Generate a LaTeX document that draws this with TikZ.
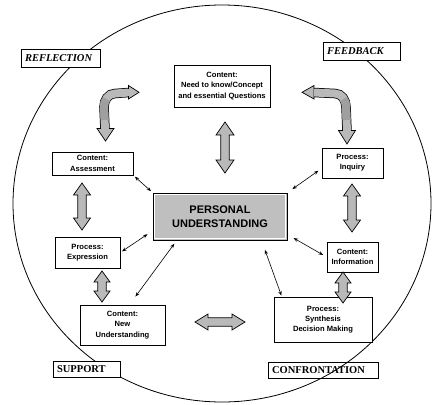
\documentclass[tikz,border=0pt]{standalone}
\usepackage{fontspec}
\setmainfont{Liberation Serif}
\setsansfont{Liberation Sans}
\usetikzlibrary{arrows.meta}

% vertical block double arrow: x, y-top, y-bottom, head half-width, head length
\newcommand{\VertArrow}[5]{%
  \draw[blk] (#1,#2) -- ({#1+#4},{#2+#5}) -- ({#1+4.2},{#2+#5}) -- ({#1+4.2},{#3-#5})
    -- ({#1+#4},{#3-#5}) -- (#1,#3) -- ({#1-#4},{#3-#5}) -- ({#1-4.2},{#3-#5})
    -- ({#1-4.2},{#2+#5}) -- ({#1-#4},{#2+#5}) -- cycle;}
% horizontal block double arrow: y, x-left, x-right, head half-width, head length
\newcommand{\HorzArrow}[5]{%
  \draw[blk] (#2,#1) -- ({#2+#5},{#1-#4}) -- ({#2+#5},{#1-4.2}) -- ({#3-#5},{#1-4.2})
    -- ({#3-#5},{#1-#4}) -- (#3,#1) -- ({#3-#5},{#1+#4}) -- ({#3-#5},{#1+4.2})
    -- ({#2+#5},{#1+4.2}) -- ({#2+#5},{#1+#4}) -- cycle;}

\begin{document}
\begin{tikzpicture}[x=1pt,y=-1pt,
  box/.style={draw=black, line width=0.7pt, fill=white, align=center, inner sep=1pt,
    font=\sffamily\bfseries\fontsize{7.6}{10.3}\selectfont},
  tag/.style={draw=black, line width=0.7pt, fill=white, inner sep=0pt, align=left,
    font=\rmfamily\bfseries\fontsize{10.5}{12}\selectfont},
  core/.style={draw=black, line width=1pt, fill=gray!50, align=center, inner sep=1pt,
    font=\sffamily\bfseries\fontsize{11}{14}\selectfont},
  conn/.style={line width=0.6pt, {Stealth[length=4.5pt,width=3.4pt]}-{Stealth[length=4.5pt,width=3.4pt]}},
  blk/.style={draw=black, line width=0.7pt, fill=gray!55, line join=miter},
  bendout/.style={line width=9.5pt, black},
  bendin/.style={line width=8pt, gray!55},
  bendshade/.style={line width=8pt, gray!75},
]
\useasboundingbox (0,0) rectangle (436,404);

% outer circle
\draw[line width=0.8pt] (222,203.5) ellipse [x radius=209pt, y radius=198.5pt];

% corner labels
\node[tag, minimum width=79pt, minimum height=18pt, text width=71pt] (refl) at (60.5,58) {\itshape REFLECTION};
\node[tag, minimum width=77pt, minimum height=18pt, text width=69pt] (feed) at (361.5,51) {\itshape FEEDBACK};
\node[tag, minimum width=67pt, minimum height=16pt, text width=59pt] (supp) at (86.5,369) {SUPPORT};
\node[tag, fill=none, minimum width=110pt, minimum height=16pt, text width=102pt] (conf) at (323,370) {CONFRONTATION};

% content and process boxes
\node[box, minimum width=96pt, minimum height=42pt] (need) at (222,86) {Content:\\Need to know/Concept\\and essential Questions};
\node[box, minimum width=81pt, minimum height=23pt] (assess) at (92.5,163.5) {Content:\\Assessment};
\node[box, minimum width=61pt, minimum height=30pt] (inquiry) at (352.5,163) {Process:\\Inquiry};
\node[core, minimum width=134pt, minimum height=47pt] (personal) at (220,216.5) {PERSONAL\\UNDERSTANDING};
\draw[white, line width=0.8pt] ([shift={(2.2pt,-2.2pt)}]personal.north west) rectangle ([shift={(-2.2pt,2.2pt)}]personal.south east);
\node[box, minimum width=65pt, minimum height=31pt] (expr) at (87.5,252.5) {Process:\\Expression};
\node[box, minimum width=51pt, minimum height=30pt] (info) at (352.5,257) {Content:\\Information};
\node[box, minimum width=85pt, minimum height=40pt] (newu) at (122.5,325) {Content:\\New\\Understanding};
\node[box, minimum width=98pt, minimum height=45pt] (synth) at (323,319.5) {Process:\\Synthesis\\Decision Making};

% block double arrows
\VertArrow{225}{122}{173}{9}{13}
\VertArrow{82}{183}{230}{8.5}{12}
\VertArrow{352}{184}{232}{8.5}{12}
\VertArrow{102}{271}{302}{8}{11}
\VertArrow{343}{272}{303}{8}{11}
\HorzArrow{322}{195}{245}{8}{13}

% bent arrow, upper left
\draw[bendout] (105,129) -- (104,107) to[out=90,in=180] (115,93.5) -- (129,92.5);
\draw[bendin]  (105,129) -- (104,107) to[out=90,in=180] (115,93.5) -- (129,92.5);
\draw[bendshade] (104.6,120) -- (104,107) to[out=90,in=225] (106.5,99);
\draw[blk] (97,128.5) -- (105.5,141) -- (114,128.5) -- cycle;
\fill[gray!55] (101.2,126) rectangle (108.8,129);
\draw[blk] (128.5,85.5) -- (139,92.3) -- (128.5,99) -- cycle;
\fill[gray!55] (126,88.6) rectangle (129,96.4);

% bent arrow, upper right
\draw[bendout] (347,131) -- (346,107) to[out=90,in=0] (335,93.5) -- (313.5,92.5);
\draw[bendin]  (347,131) -- (346,107) to[out=90,in=0] (335,93.5) -- (313.5,92.5);
\draw[bendshade] (346.6,120) -- (346,107) to[out=90,in=-45] (343.5,99);
\draw[blk] (338.5,130.5) -- (347,144) -- (355.5,130.5) -- cycle;
\fill[gray!55] (343.2,128) rectangle (350.8,131);
\draw[blk] (314,85.5) -- (302,92.3) -- (314,99) -- cycle;
\fill[gray!55] (313.5,88.6) rectangle (316.5,96.4);

% links to the centre
\draw[conn, shorten <=2pt, shorten >=2pt] (assess.south east) -- (personal.north west);
\draw[conn, shorten <=6pt, shorten >=4pt] (personal.north east) -- (inquiry.190);
\draw[conn, shorten <=2pt, shorten >=6pt] (expr.east) -- (personal.192);
\draw[conn, shorten <=10pt, shorten >=4pt] (newu.71) -- (personal.209);
\draw[conn, shorten <=7pt, shorten >=4pt] (personal.-15) -- (info.west);
\draw[conn, shorten <=10pt, shorten >=1pt] (personal.-30) -- (synth.151);
\end{tikzpicture}
\end{document}
